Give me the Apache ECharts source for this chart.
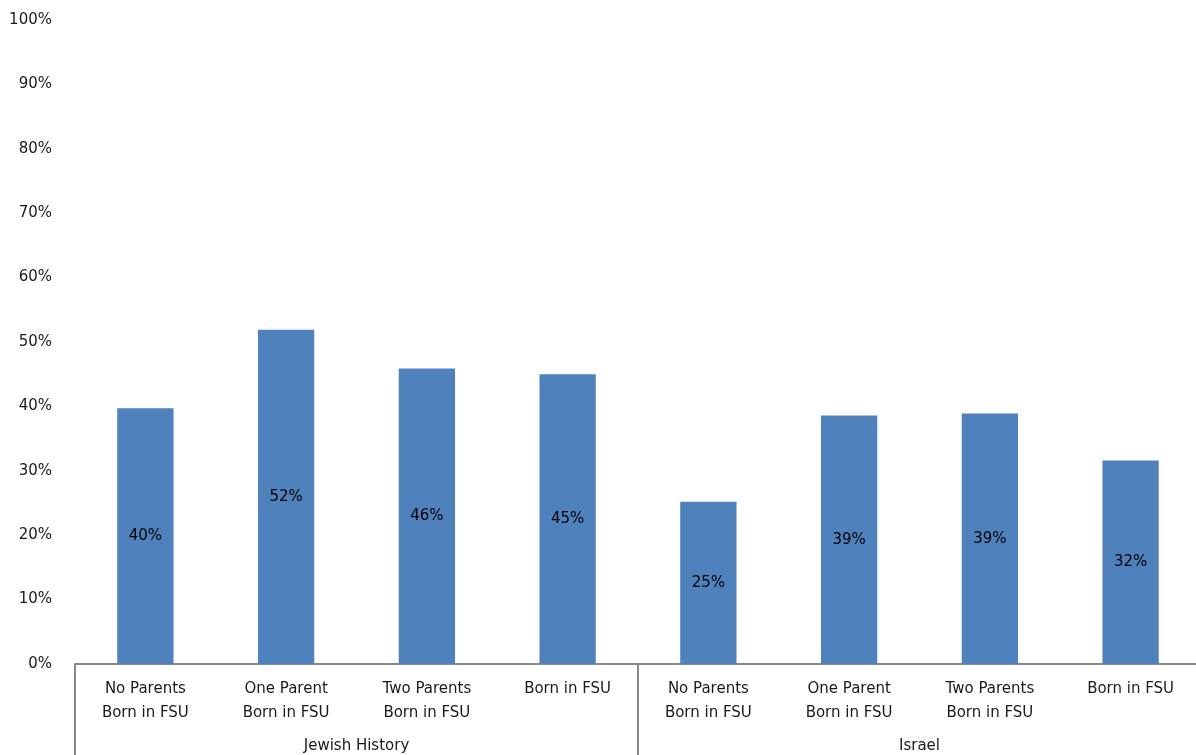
<!DOCTYPE html>
<html><head><meta charset="utf-8">
<script src="https://cdn.jsdelivr.net/npm/echarts@6/dist/echarts.min.js"></script>
<style>html,body{margin:0;padding:0;background:#fff}#c{width:1196px;height:755px}</style>
</head><body><div id="c"></div>
<script>
const categories = ['No Parents\nBorn in FSU','One Parent\nBorn in FSU','Two Parents\nBorn in FSU','Born in FSU',
                    'No Parents\nBorn in FSU','One Parent\nBorn in FSU','Two Parents\nBorn in FSU','Born in FSU'];
const groups = ['Jewish History','Israel'];
const values = [39.7, 51.9, 45.9, 45.0, 25.2, 38.6, 38.9, 31.6];
const yMin = 0, yMax = 100, yStep = 10;

const font = 'DejaVu Sans';
const chart = echarts.init(document.getElementById('c'), null, {renderer:'canvas'});
chart.setOption({
  animation:false,
  grid:{left:75, top:20, width:1126, height:644, containLabel:false, outerBoundsMode:'none'},
  xAxis:[{
    type:'category', data:categories, position:'bottom',
    axisLine:{show:true, lineStyle:{color:'#888', width:2}},
    axisTick:{show:false},
    axisLabel:{interval:0, margin:13, fontFamily:font, fontSize:15, lineHeight:24, color:'#1a1a1a'},
    splitLine:{show:false}
  },{
    type:'category', data:groups, position:'bottom',
    axisLine:{show:false},
    axisTick:{show:true, length:92, inside:false, lineStyle:{color:'#888', width:2}},
    axisLabel:{interval:0, margin:75, fontFamily:font, fontSize:15, color:'#1a1a1a'},
    splitLine:{show:false}
  }],
  yAxis:{
    type:'value', min:yMin, max:yMax, interval:yStep,
    axisLine:{show:false}, axisTick:{show:false}, splitLine:{show:false},
    axisLabel:{formatter:'{value}%', margin:23, fontFamily:font, fontSize:15, color:'#1a1a1a'}
  },
  series:[{
    type:'bar', data:values, barWidth:'40%', xAxisIndex:0,
    itemStyle:{color:'#4F81BD'},
    label:{show:true, position:'inside', fontFamily:font, fontSize:15, color:'#000',
      formatter:p=>Math.round(p.value)+'%'}
  }]
});
</script></body></html>
